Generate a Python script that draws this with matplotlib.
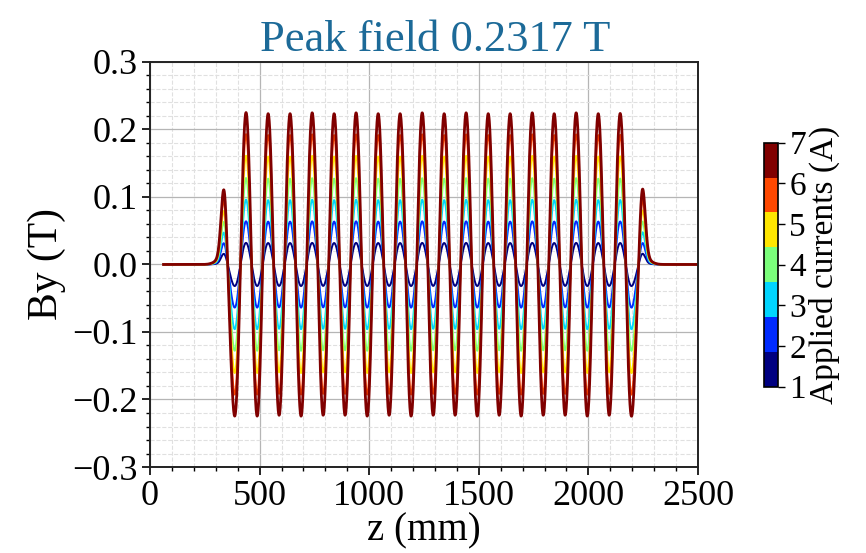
import numpy as np
import matplotlib
matplotlib.use("Agg")
import matplotlib.pyplot as plt
from matplotlib.colors import Normalize
from matplotlib.cm import ScalarMappable
from matplotlib.ticker import MultipleLocator

plt.rcParams['font.family'] = ['Liberation Serif', 'DejaVu Serif']

currents = [1, 2, 3, 4, 5, 6, 7]
peak_by = [0.032, 0.064, 0.096, 0.128, 0.161, 0.193, 0.225]

# pole centres along z (mm) and relative pole strengths (end poles are half)
pole_z = [338, 388, 438, 489, 539, 589, 639, 689, 740, 790, 840, 890, 940,
          991, 1041, 1091, 1141, 1191, 1242, 1292, 1342, 1392, 1442, 1493,
          1543, 1593, 1643, 1693, 1744, 1794, 1844, 1894, 1944, 1995, 2045,
          2095, 2145, 2195, 2246]
pole_strength = [0.49, -0.97] + [1, -1] * 17 + [1, -0.97, 0.49]
pole_width = 20.0      # mm, main poles
end_width = 13.0       # mm, narrower end poles
end_tail_width = 30.0  # mm, faint fringe tail of the end poles
end_tail_frac = 0.1
z_start, z_end = 62, 2520

title = "Peak field 0.2317 T"


def bump(z, zc, w):
    return np.exp(-(z - zc) ** 2 / (2 * w ** 2))


# field profile built from the pole list
z = np.linspace(z_start, z_end, 3000)
profile = np.zeros_like(z)
last = len(pole_z) - 1
for i, (zc, s) in enumerate(zip(pole_z, pole_strength)):
    if i in (0, last):
        profile += s * ((1 - end_tail_frac) * bump(z, zc, end_width)
                        + end_tail_frac * bump(z, zc, end_tail_width))
    else:
        profile += s * bump(z, zc, pole_width)
profile /= np.abs(profile[(z > 420) & (z < 2170)]).max()

cmap = plt.get_cmap('jet', len(currents))
norm = Normalize(vmin=min(currents), vmax=max(currents))

fig = plt.figure(figsize=(8.66, 5.53), dpi=100)
ax = fig.add_axes([0.1732, 0.1555, 0.6328, 0.7325])

for cur, pk in zip(currents, peak_by):
    lw = 2.0 if cur == max(currents) else 1.4
    ax.plot(z, pk * profile, color=cmap(norm(cur)), lw=lw)

ax.set_xlim(0, 2500)
ax.set_ylim(-0.3, 0.3)
ax.xaxis.set_major_locator(MultipleLocator(500))
ax.xaxis.set_minor_locator(MultipleLocator(100))
ax.yaxis.set_major_locator(MultipleLocator(0.1))
ax.yaxis.set_minor_locator(MultipleLocator(0.02))
ax.grid(which='major', color='#b5b5b5', lw=0.9, ls='-')
ax.grid(which='minor', color='#e0e0e0', lw=0.8, ls='--')
ax.set_axisbelow(True)
ax.tick_params(which='major', labelsize=26, length=6, width=1.2, direction='out', pad=3)
ax.tick_params(which='minor', length=3, width=1.0, direction='out')
for sp in ax.spines.values():
    sp.set_linewidth(1.4)
    sp.set_color('#222222')

ax.set_xlabel("z (mm)", fontsize=28, labelpad=0)
ax.set_ylabel("By (T)", fontsize=30, labelpad=4)
ax.set_title(title, fontsize=32, color='#1c6a98', pad=8, x=0.52)

cax = fig.add_axes([0.882, 0.3007, 0.016, 0.4413])
sm = ScalarMappable(norm=norm, cmap=cmap)
cb = fig.colorbar(sm, cax=cax, ticks=currents)
cb.ax.tick_params(labelsize=24, length=5, width=1.0)
cb.outline.set_linewidth(1.2)
cb.set_label("Applied currents (A)", fontsize=24, labelpad=2)

fig.savefig("out.png", dpi=100)
